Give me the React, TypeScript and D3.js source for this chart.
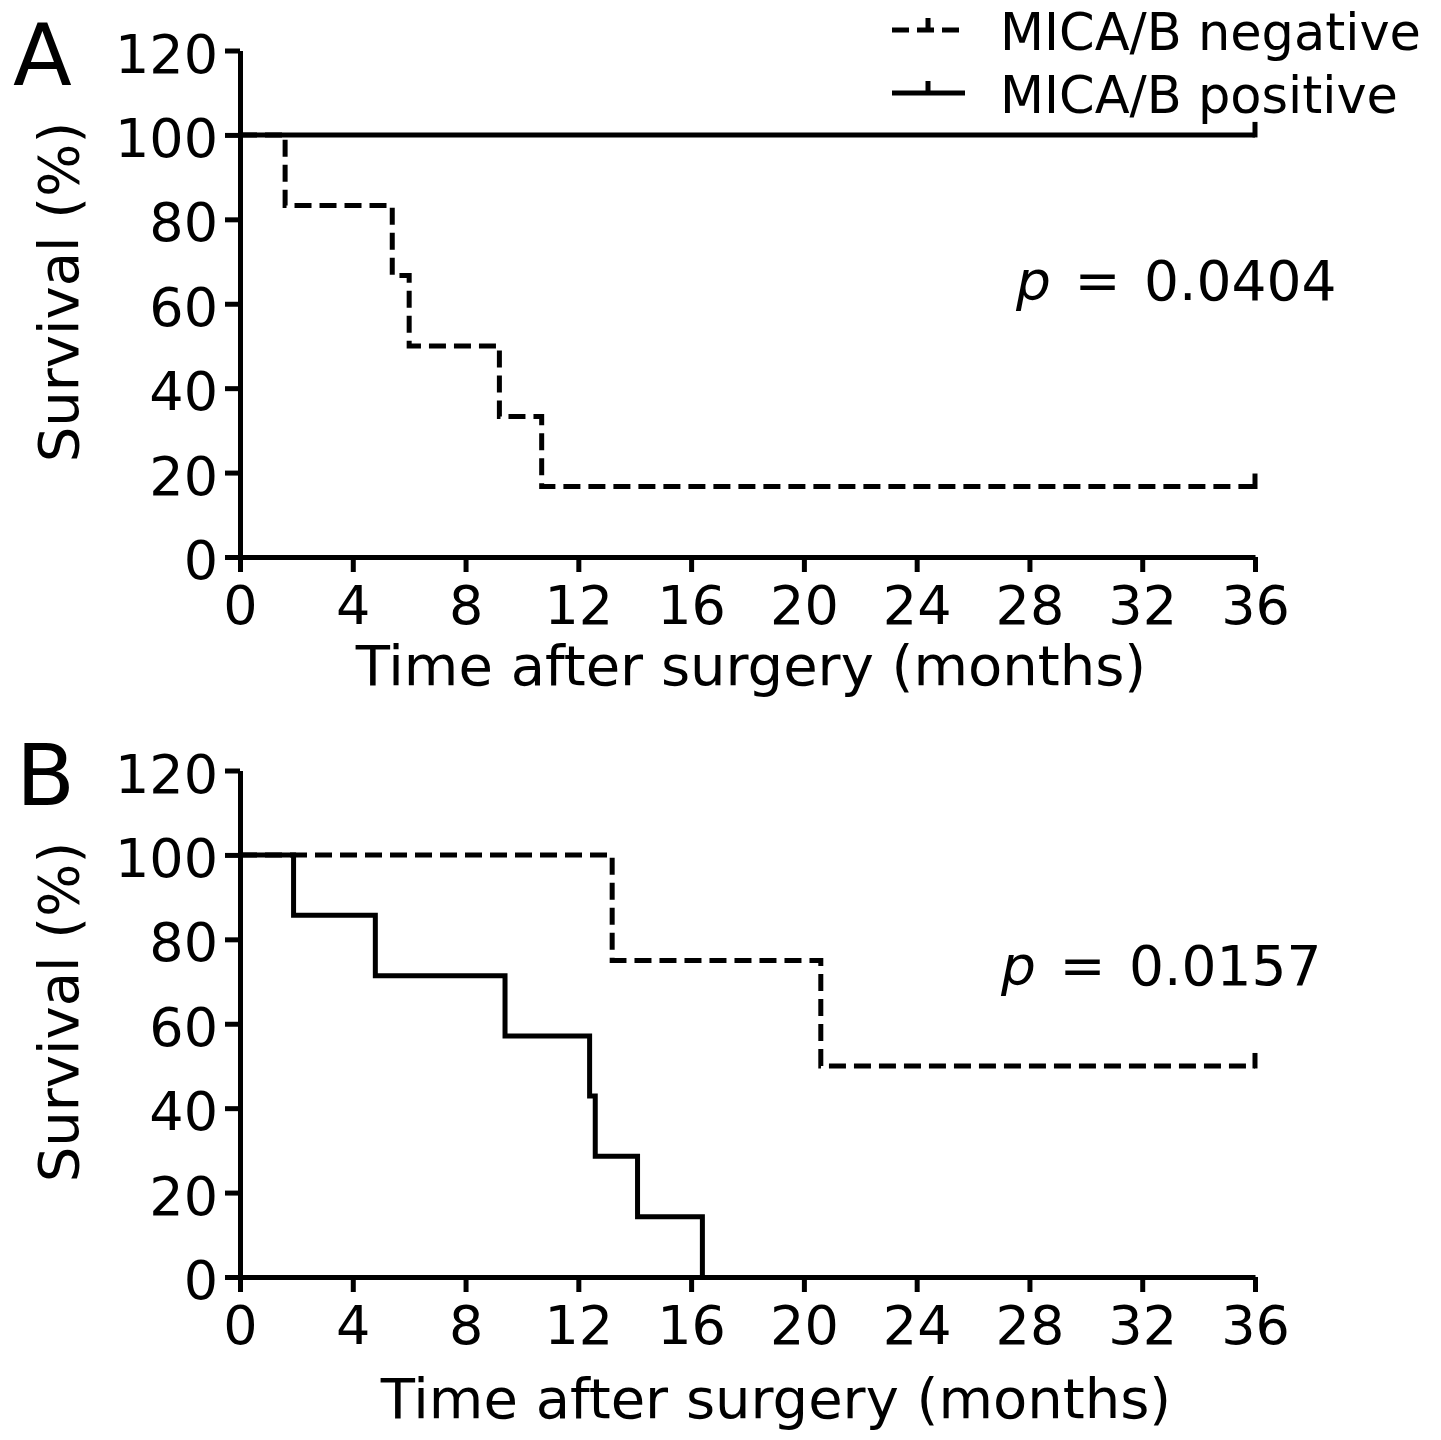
import { useEffect, useRef } from 'react';
import * as d3 from 'd3';

const MONTH_TICKS = [0, 4, 8, 12, 16, 20, 24, 28, 32, 36];
const SURVIVAL_TICKS = [0, 20, 40, 60, 80, 100, 120];

// panel A
const aNegativeTimes = [1.6, 5.4, 6.0, 9.2, 10.7];
const aNegativeSurvival = [83.3, 66.7, 50, 33.3, 16.7];
const aNegativeCensored = [36];
const aPositiveTimes: number[] = [];
const aPositiveSurvival: number[] = [];
const aPositiveCensored = [36];

// panel B
const bNegativeTimes = [13.2, 20.6];
const bNegativeSurvival = [75, 50];
const bNegativeCensored = [36];
const bPositiveTimes = [1.9, 4.8, 9.4, 12.4, 12.6, 14.1, 16.4];
const bPositiveSurvival = [85.7, 71.4, 57.1, 42.9, 28.6, 14.3, 0];
const bPositiveCensored: number[] = [];

const LEGEND_LABELS = ['MICA/B negative', 'MICA/B positive'];
const P_VALUES = ['0.0404', '0.0157'];
const X_TITLE = 'Time after surgery (months)';
const Y_TITLE = 'Survival (%)';

const FONT = '"DejaVu Sans", Verdana, sans-serif';
const STROKE = 5;
const DASH = '17 8';

interface Series {
  times: number[];
  survival: number[];
  censored: number[];
  dashed: boolean;
}

interface PanelConfig {
  letter: string;
  letterX: number;
  letterY: number;
  top: number;
  bottom: number;
  series: Series[];
  pValue: string;
  pX: number;
  pY: number;
  titleX: number;
  titleY: number;
  yTitleY: number;
}

function survivalAt(s: Series, t: number) {
  let v = 100;
  s.times.forEach((tt, i) => {
    if (tt <= t) v = s.survival[i];
  });
  return v;
}

function drawPanel(svg: d3.Selection<SVGSVGElement, unknown, null, undefined>, p: PanelConfig) {
  const x = d3.scaleLinear().domain([0, 36]).range([240, 1255]);
  const y = d3.scaleLinear().domain([0, 120]).range([p.bottom, p.top]);
  const g = svg.append('g');

  const line = d3
    .line<[number, number]>()
    .x((d) => x(d[0]))
    .y((d) => y(d[1]))
    .curve(d3.curveStepAfter);

  p.series.forEach((s) => {
    const pts: [number, number][] = [[0, 100], ...s.times.map((t, i) => [t, s.survival[i]] as [number, number])];
    const lastT = pts[pts.length - 1][0];
    const end = s.censored.length ? (d3.max(s.censored) as number) : lastT;
    if (end > lastT) pts.push([end, pts[pts.length - 1][1]]);
    g.append('path')
      .datum(pts)
      .attr('fill', 'none')
      .attr('stroke', '#000')
      .attr('stroke-width', STROKE)
      .attr('stroke-dasharray', s.dashed ? DASH : null)
      .attr('d', line);
    // censor marks
    s.censored.forEach((c) => {
      const yy = y(survivalAt(s, c));
      g.append('line')
        .attr('x1', x(c))
        .attr('x2', x(c))
        .attr('y1', yy + STROKE / 2)
        .attr('y2', yy - 13)
        .attr('stroke', '#000')
        .attr('stroke-width', STROKE);
    });
  });

  const yAxis = g
    .append('g')
    .attr('transform', 'translate(240,0)')
    .call(d3.axisLeft(y).tickValues(SURVIVAL_TICKS).tickSize(15).tickPadding(7).tickSizeOuter(0));
  const xAxis = g
    .append('g')
    .attr('transform', `translate(0,${p.bottom})`)
    .call(d3.axisBottom(x).tickValues(MONTH_TICKS).tickSize(15).tickPadding(14).tickSizeOuter(0));

  [yAxis, xAxis].forEach((a) => {
    a.attr('font-family', FONT).attr('font-size', 54).attr('color', '#000');
    a.selectAll('line, path').attr('stroke-width', STROKE).attr('stroke', '#000');
    a.selectAll('text').attr('fill', '#000');
  });
  yAxis.selectAll('text').attr('dy', '0.4em');

  g.append('text')
    .attr('x', p.titleX)
    .attr('y', p.titleY)
    .attr('text-anchor', 'middle')
    .attr('font-family', FONT)
    .attr('font-size', 56)
    .text(X_TITLE);

  g.append('text')
    .attr('transform', `translate(78,${p.yTitleY}) rotate(-90)`)
    .attr('text-anchor', 'middle')
    .attr('font-family', FONT)
    .attr('font-size', 56)
    .text(Y_TITLE);

  g.append('text')
    .attr('x', p.letterX)
    .attr('y', p.letterY)
    .attr('font-family', FONT)
    .attr('font-size', 86)
    .text(p.letter);

  const pt = g
    .append('text')
    .attr('x', p.pX)
    .attr('y', p.pY)
    .attr('font-family', FONT)
    .attr('font-size', 55)
    .attr('word-spacing', 6)
    .attr('xml:space', 'preserve');
  pt.append('tspan').attr('font-style', 'italic').text('p');
  pt.append('tspan').text(` = ${p.pValue}`);
}

export default function App() {
  const ref = useRef<SVGSVGElement>(null);

  useEffect(() => {
    if (!ref.current) return;
    const svg = d3.select(ref.current);
    svg.selectAll('*').remove();

    drawPanel(svg, {
      letter: 'A',
      letterX: 13,
      letterY: 85,
      top: 50.5,
      bottom: 557,
      series: [
        { times: aPositiveTimes, survival: aPositiveSurvival, censored: aPositiveCensored, dashed: false },
        { times: aNegativeTimes, survival: aNegativeSurvival, censored: aNegativeCensored, dashed: true },
      ],
      pValue: P_VALUES[0],
      pX: 1016,
      pY: 300,
      titleX: 751,
      titleY: 685,
      yTitleY: 292,
    });

    drawPanel(svg, {
      letter: 'B',
      letterX: 16,
      letterY: 805,
      top: 770.5,
      bottom: 1277,
      series: [
        { times: bNegativeTimes, survival: bNegativeSurvival, censored: bNegativeCensored, dashed: true },
        { times: bPositiveTimes, survival: bPositiveSurvival, censored: bPositiveCensored, dashed: false },
      ],
      pValue: P_VALUES[1],
      pX: 1001,
      pY: 985,
      titleX: 776,
      titleY: 1418,
      yTitleY: 1012,
    });

    // legend
    const legend = svg.append('g');
    LEGEND_LABELS.forEach((label, i) => {
      const ly = 30 + i * 63;
      legend
        .append('line')
        .attr('x1', 892)
        .attr('x2', 965)
        .attr('y1', ly)
        .attr('y2', ly)
        .attr('stroke', '#000')
        .attr('stroke-width', STROKE)
        .attr('stroke-dasharray', i === 0 ? DASH : null);
      legend
        .append('line')
        .attr('x1', 928)
        .attr('x2', 928)
        .attr('y1', ly)
        .attr('y2', ly - 12)
        .attr('stroke', '#000')
        .attr('stroke-width', STROKE);
      legend
        .append('text')
        .attr('x', 1000)
        .attr('y', ly + 20)
        .attr('font-family', FONT)
        .attr('font-size', 51)
        .text(label);
    });
  }, []);

  return (
    <div style={{ position: 'absolute', left: 0, top: 0 }}>
      <svg ref={ref} width={1441} height={1440} style={{ display: 'block', background: '#fff' }} />
    </div>
  );
}
